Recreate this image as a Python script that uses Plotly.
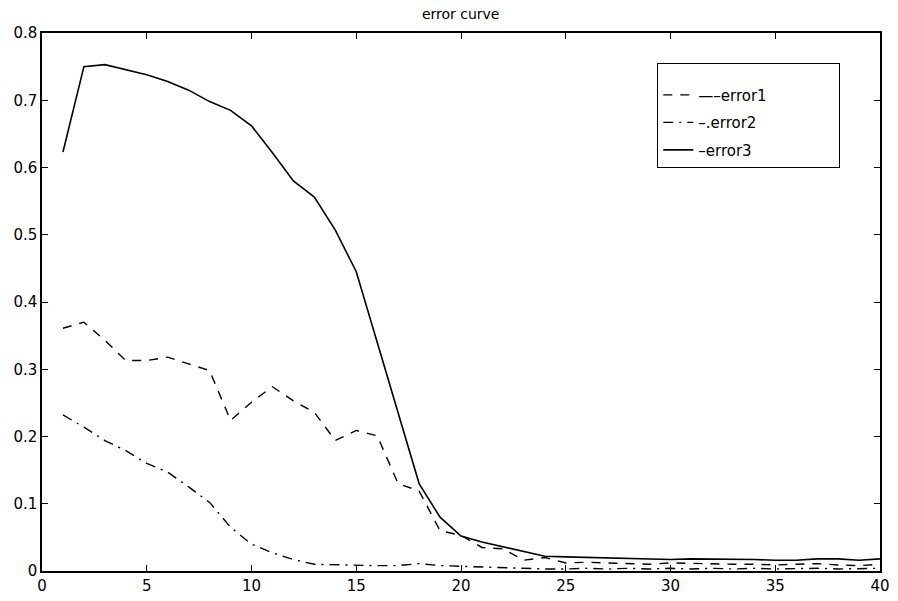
import plotly.graph_objects as go

iterations = list(range(1, 41))

error1 = [0.361, 0.370, 0.343, 0.313, 0.313, 0.318, 0.308, 0.298, 0.224, 0.251,
          0.274, 0.253, 0.236, 0.194, 0.209, 0.201, 0.130, 0.119, 0.060, 0.053,
          0.035, 0.033, 0.016, 0.020, 0.012, 0.013, 0.012, 0.011, 0.010, 0.012,
          0.011, 0.010, 0.010, 0.010, 0.009, 0.010, 0.011, 0.009, 0.008, 0.010]

error2 = [0.232, 0.214, 0.194, 0.179, 0.160, 0.147, 0.125, 0.102, 0.065, 0.040,
          0.027, 0.017, 0.010, 0.009, 0.009, 0.008, 0.008, 0.011, 0.008, 0.007,
          0.006, 0.004, 0.003, 0.003, 0.003, 0.004, 0.003, 0.004, 0.003, 0.004,
          0.003, 0.004, 0.003, 0.004, 0.003, 0.004, 0.004, 0.003, 0.004, 0.004]

error3 = [0.623, 0.750, 0.753, 0.745, 0.738, 0.728, 0.715, 0.698, 0.685, 0.662,
          0.622, 0.580, 0.556, 0.507, 0.445, 0.340, 0.235, 0.130, 0.080, 0.052,
          0.043, 0.036, 0.030, 0.022, 0.021, 0.020, 0.019, 0.018, 0.017, 0.017,
          0.018, 0.018, 0.017, 0.017, 0.016, 0.016, 0.018, 0.018, 0.016, 0.018]

names = ["\u2014\u2013error1", "\u2013.error2", "\u2013error3"]
x_ticks = [0, 5, 10, 15, 20, 25, 30, 35, 40]
y_ticks = [0, 0.1, 0.2, 0.3, 0.4, 0.5, 0.6, 0.7, 0.8]

FONT = "DejaVu Sans, Verdana, sans-serif"
pad = "\u00a0" * 14

fig = go.Figure()
fig.add_trace(go.Scatter(x=iterations, y=error1, mode="lines", name=names[0] + pad,
                         legendgroup="a",
                         line=dict(color="black", width=1.4, dash="9px,8px")))
fig.add_trace(go.Scatter(x=iterations, y=error2, mode="lines", name=names[1] + pad,
                         legendgroup="b",
                         line=dict(color="black", width=1.4, dash="10px,6px,2px,6px")))
fig.add_trace(go.Scatter(x=iterations, y=error3, mode="lines", name=names[2] + pad,
                         legendgroup="c",
                         line=dict(color="black", width=1.6)))

axis_common = dict(
    showgrid=False, zeroline=False, automargin=False,
    showline=True, linecolor="black", linewidth=1.5, mirror="ticks",
    ticks="inside", ticklen=6, tickcolor="black", tickwidth=1,
    tickfont=dict(family=FONT, size=15, color="black"),
)

fig.update_layout(
    width=898, height=601,
    margin=dict(l=42, r=18, t=33, b=30),
    paper_bgcolor="white", plot_bgcolor="white",
    title=dict(text="error curve", x=0.513, xanchor="center", y=0.977, yanchor="middle",
               font=dict(family=FONT, size=14, color="black")),
    xaxis=dict(range=[0, 40], tickvals=x_ticks, ticktext=[str(v) for v in x_ticks], **axis_common),
    yaxis=dict(range=[0, 0.8], tickvals=y_ticks, ticktext=["0"] + [f"{v:.1f}" for v in y_ticks[1:]], **axis_common),
    legend=dict(x=0.734, y=0.944, xanchor="left", yanchor="top",
                bgcolor="white", bordercolor="black", borderwidth=1.2,
                font=dict(family=FONT, size=15, color="black"),
                title=dict(text="\u00a0", font=dict(size=11)),
                traceorder="grouped", tracegroupgap=5),
    showlegend=True,
)

fig.write_html("out.html", config={"displayModeBar": False},
               post_script="document.body.style.margin='0';")
